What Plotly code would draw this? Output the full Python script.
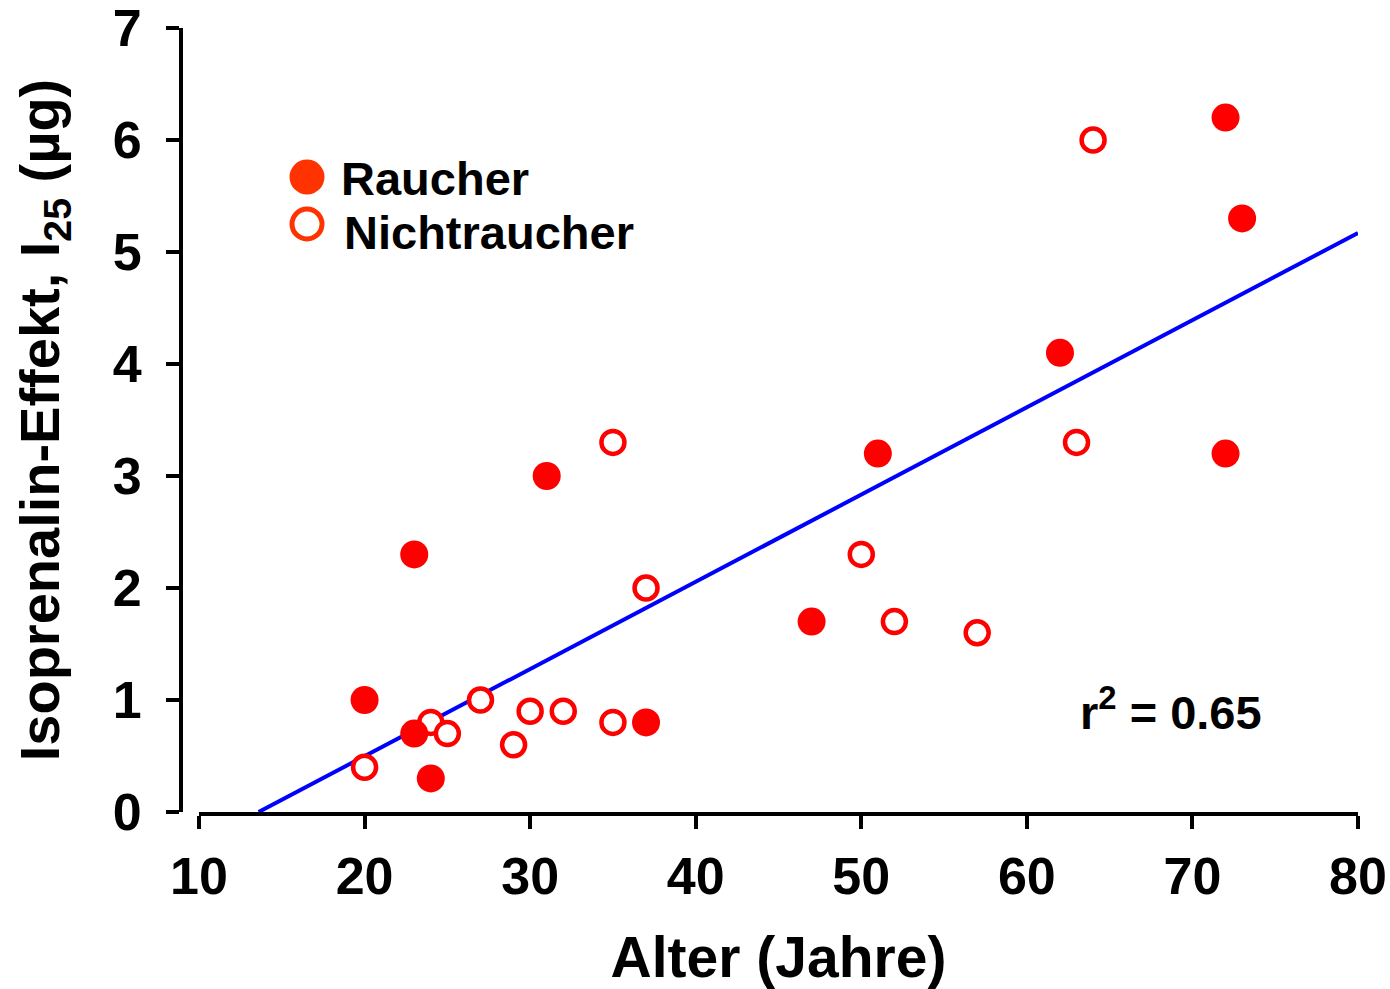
import plotly.graph_objects as go

# Data
raucher_age = [20, 23, 23, 24, 31, 37, 47, 51, 62, 72, 72, 73]
raucher_val = [1.0, 2.3, 0.7, 0.3, 3.0, 0.8, 1.7, 3.2, 4.1, 6.2, 3.2, 5.3]
nicht_age = [20, 24, 25, 27, 29, 30, 32, 35, 35, 37, 50, 52, 57, 63, 64]
nicht_val = [0.4, 0.8, 0.7, 1.0, 0.6, 0.9, 0.9, 0.8, 3.3, 2.0, 2.3, 1.7, 1.6, 3.3, 6.0]
fit_x = [13.6, 80]
fit_y = [0.0, 5.17]
x_ticks = [10, 20, 30, 40, 50, 60, 70, 80]
y_ticks = [0, 1, 2, 3, 4, 5, 6, 7]
legend_labels = ["Raucher", "Nichtraucher"]
r2_text = "r<sup>2</sup> = 0.65"

FONT = "Liberation Sans, Arial, sans-serif"
RED = "#FF0000"
LEG = "#FF3300"

fig = go.Figure()
fig.add_trace(go.Scatter(x=fit_x, y=fit_y, mode="lines",
                         line=dict(color="#0000FF", width=4), showlegend=False,
                         cliponaxis=False))
fig.add_trace(go.Scatter(x=nicht_age, y=nicht_val, mode="markers",
                         marker=dict(size=23, color="white", line=dict(color=RED, width=4.5)),
                         showlegend=False, cliponaxis=False))
fig.add_trace(go.Scatter(x=raucher_age, y=raucher_val, mode="markers",
                         marker=dict(size=28, color=RED, line=dict(width=0)),
                         showlegend=False, cliponaxis=False))

W, H = 1390, 989
L, R, T, B = 181, 32, 28, 177
pw = W - L - R
xdom0 = (199 - L) / pw

def px_to_paper_x(px):
    return (px - L) / pw
def py_to_paper_y(py):
    return (H - B - py) / (H - T - B)

# Legend swatches (pixel-sized circles in paper coordinates)
shapes = [
    dict(type="circle", xref="paper", yref="paper", xsizemode="pixel", ysizemode="pixel",
         xanchor=px_to_paper_x(307), yanchor=py_to_paper_y(177),
         x0=-17.5, x1=17.5, y0=-17.5, y1=17.5, fillcolor=LEG, line=dict(width=0)),
    dict(type="circle", xref="paper", yref="paper", xsizemode="pixel", ysizemode="pixel",
         xanchor=px_to_paper_x(307), yanchor=py_to_paper_y(224),
         x0=-15, x1=15, y0=-15, y1=15, fillcolor="white", line=dict(color=LEG, width=5)),
]

annotations = [
    dict(text=legend_labels[0], xref="paper", yref="paper",
         x=px_to_paper_x(339), y=py_to_paper_y(178), xanchor="left", yanchor="middle",
         showarrow=False, font=dict(family=FONT, size=47, color="black", weight="bold")),
    dict(text=legend_labels[1], xref="paper", yref="paper",
         x=px_to_paper_x(342), y=py_to_paper_y(232), xanchor="left", yanchor="middle",
         showarrow=False, font=dict(family=FONT, size=47, color="black", weight="bold")),
    dict(text=r2_text, xref="paper", yref="paper",
         x=px_to_paper_x(1171), y=py_to_paper_y(709), xanchor="center", yanchor="middle",
         showarrow=False, font=dict(family=FONT, size=47, color="black", weight="bold")),
]

fig.update_layout(
    width=W, height=H,
    margin=dict(l=L, r=R, t=T, b=B, pad=0, autoexpand=False),
    paper_bgcolor="white", plot_bgcolor="white",
    font=dict(family=FONT, color="black"),
    shapes=shapes, annotations=annotations,
    xaxis=dict(domain=[xdom0, 1], range=[10, 80], tickvals=x_ticks, automargin=False,
               showline=True, linecolor="black", linewidth=4,
               ticks="outside", ticklen=13, tickwidth=4, tickcolor="black",
               showgrid=False, zeroline=False, ticklabeloverflow="allow",
               tickfont=dict(family=FONT, size=52, color="black", weight="bold"),
               ticklabelstandoff=3,
               title=dict(text="Alter (Jahre)", standoff=34,
                          font=dict(family=FONT, size=57, color="black", weight="bold"))),
    yaxis=dict(range=[0, 7], tickvals=y_ticks, anchor="free", position=0, automargin=False,
               showline=True, linecolor="black", linewidth=4,
               ticks="outside", ticklen=13, tickwidth=4, tickcolor="black",
               showgrid=False, zeroline=False, ticklabeloverflow="allow",
               tickfont=dict(family=FONT, size=52, color="black", weight="bold"),
               ticklabelstandoff=14,
               title=dict(text="Isoprenalin-Effekt, I<sub>25</sub> (µg)", standoff=34,
                          font=dict(family=FONT, size=56, color="black", weight="bold"))),
)

fig.write_html("out.html")
